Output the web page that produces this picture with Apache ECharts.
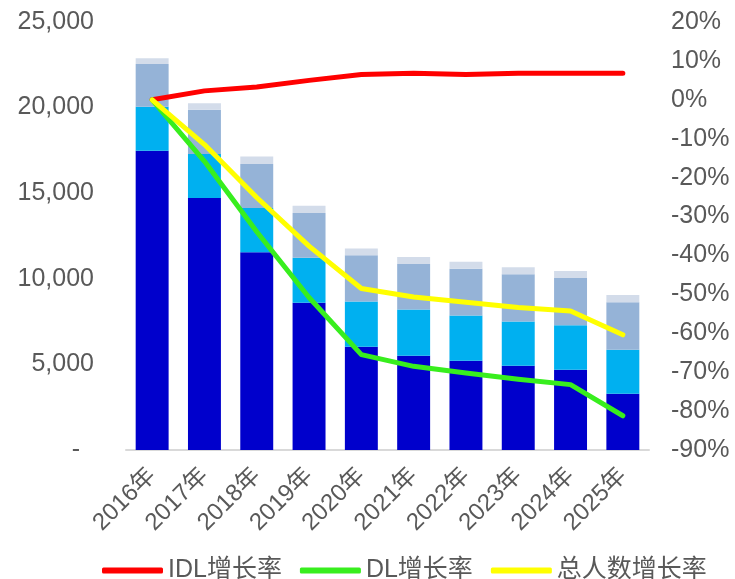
<!DOCTYPE html>
<html>
<head>
<meta charset="utf-8">
<script src="https://cdn.jsdelivr.net/npm/echarts@6/dist/echarts.min.js"></script>
<style>
html,body{margin:0;padding:0;background:#fff;}
#c{width:735px;height:579px;}
</style>
</head>
<body>
<div id="c"></div>
<script>
const categories = ['2016年','2017年','2018年','2019年','2020年','2021年','2022年','2023年','2024年','2025年'];
// stacked bar segments (persons)
const segDark  = [17480, 14720, 11550, 8600, 6030, 5510, 5220, 4920, 4690, 3290];
const segCyan  = [2570, 2570, 2590, 2630, 2650, 2690, 2630, 2590, 2590, 2570];
const segSteel = [2500, 2590, 2570, 2610, 2700, 2670, 2730, 2750, 2760, 2770];
const segLight = [330, 370, 430, 430, 390, 410, 410, 410, 410, 430];
// growth rates (%)
const idlGrowth   = [0, 2.3, 3.3, 5.0, 6.5, 6.8, 6.5, 6.8, 6.8, 6.8];
const dlGrowth    = [0, -15.8, -33.9, -50.8, -65.5, -68.5, -70.2, -71.8, -73.2, -81.2];
const totalGrowth = [0, -11.5, -25.1, -37.6, -48.5, -50.7, -52.0, -53.4, -54.3, -60.4];

const textColor = '#595959';
const numFont = '"Liberation Sans", Arial, sans-serif';
const cjkFont = '"Liberation Sans", Arial, "Noto Sans CJK SC", sans-serif';

const chart = echarts.init(document.getElementById('c'), null, {renderer: 'canvas'});

function barSeries(name, data, color) {
  return {
    name: name, type: 'bar', stack: 'total', data: data,
    barCategoryGap: '37%',
    itemStyle: {color: color},
    emphasis: {disabled: true},
    z: 2
  };
}
function lineSeries(name, data, color) {
  return {
    name: name, type: 'line', yAxisIndex: 1, data: data,
    symbol: 'none', smooth: false,
    lineStyle: {color: color, width: 5, cap: 'round', join: 'round'},
    itemStyle: {color: color},
    emphasis: {disabled: true},
    z: 5
  };
}

chart.setOption({
  animation: false,
  backgroundColor: '#ffffff',
  grid: {left: 126, right: 86, top: 22, bottom: 129},
  legend: {
    data: ['IDL增长率', 'DL增长率', '总人数增长率'],
    left: 97, top: 553,
    icon: 'roundRect',
    itemWidth: 61, itemHeight: 6, itemGap: 18,
    textStyle: {color: textColor, fontSize: 25, fontFamily: cjkFont}
  },
  xAxis: {
    type: 'category', data: categories,
    axisLine: {lineStyle: {color: '#D9D9D9', width: 2}},
    axisTick: {show: false},
    axisLabel: {interval: 0, rotate: 45, margin: 22, color: textColor, fontSize: 24, fontFamily: cjkFont}
  },
  yAxis: [{
    type: 'value', min: 0, max: 25000, interval: 5000,
    splitLine: {show: false}, axisLine: {show: false}, axisTick: {show: false},
    axisLabel: {
      margin: 32, color: textColor, fontSize: 25, fontFamily: numFont,
      formatter: function (v) { return v === 0 ? '-  ' : v.toLocaleString('en-US'); }
    }
  }, {
    type: 'value', min: -90, max: 20, interval: 10,
    splitLine: {show: false}, axisLine: {show: false}, axisTick: {show: false},
    axisLabel: {
      margin: 22, color: textColor, fontSize: 25, fontFamily: numFont,
      formatter: function (v) { return Math.round(v) + '%'; }
    }
  }],
  series: [
    barSeries('DL', segDark, '#0000CC'),
    barSeries('IDL-1', segCyan, '#00B0F0'),
    barSeries('IDL-2', segSteel, '#95B3D7'),
    barSeries('IDL-3', segLight, '#D3DCEA'),
    lineSeries('IDL增长率', idlGrowth, '#FF0000'),
    lineSeries('DL增长率', dlGrowth, '#38EE1E'),
    lineSeries('总人数增长率', totalGrowth, '#FFFF00')
  ]
});
</script>
</body>
</html>
